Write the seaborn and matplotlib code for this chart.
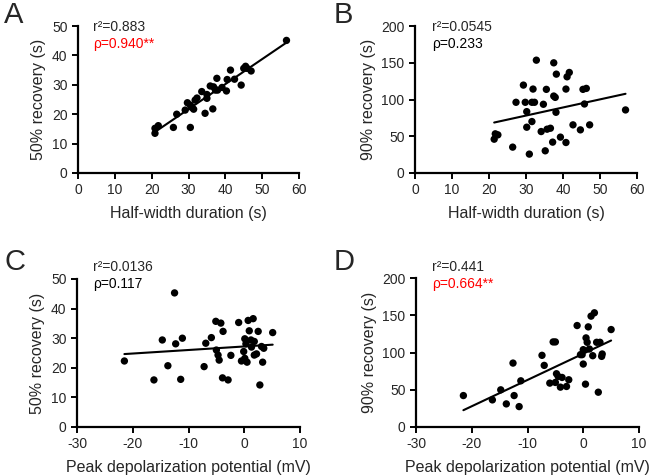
import numpy as np
import matplotlib
matplotlib.use("Agg")
import matplotlib.pyplot as plt
import seaborn as sns

# Panel A: half-width duration vs 50% recovery
hw_a = [20.9, 20.9, 21.8, 25.9, 26.8, 29.1, 29.7, 30.5, 30.5, 30.9, 31.4, 31.8,
        32.3, 33.6, 34.5, 35.0, 35.0, 35.9, 36.6, 36.8, 37.3, 37.7, 37.9, 39.1,
        40.3, 40.5, 41.4, 42.5, 44.3, 45.0, 45.5, 45.9, 47.0, 56.6]
rec50_a = [13.5, 15.2, 16.1, 15.5, 20.0, 21.4, 23.9, 15.5, 23.1, 22.3, 21.7, 24.8,
           25.5, 27.7, 20.3, 25.4, 26.7, 29.6, 21.8, 29.3, 28.2, 32.2, 28.2, 29.1,
           27.9, 31.8, 35.0, 31.9, 29.9, 35.6, 36.3, 35.6, 34.7, 45.1]

# Panel B: half-width duration vs 90% recovery
hw_b = [21.4, 21.7, 22.4, 26.4, 27.3, 29.3, 29.8, 30.2, 30.2, 30.9, 31.6, 31.9,
        31.6, 32.3, 32.8, 34.1, 34.7, 35.2, 35.5, 35.7, 36.6, 37.2, 37.5, 37.5,
        37.9, 38.1, 38.2, 39.3, 40.8, 40.8, 41.1, 41.7, 42.7, 44.7, 45.4, 45.8,
        46.3, 47.2, 56.9]
rec90_b = [46.0, 53.3, 51.9, 35.2, 96.2, 119.6, 96.2, 83.5, 62.3, 25.7, 70.0, 114.2,
           96.2, 96.2, 153.5, 56.4, 93.5, 30.2, 113.8, 59.6, 60.9, 42.0, 149.9, 104.7,
           102.9, 82.6, 134.5, 48.8, 114.2, 41.5, 130.9, 136.8, 65.5, 58.7, 113.8, 93.9,
           115.1, 65.5, 85.8]

# Panel C: peak depolarization vs 50% recovery
pdp_c = [-21.5, -16.2, -14.7, -13.7, -12.5, -12.3, -11.4, -11.1, -7.2, -6.9, -5.9,
         -5.1, -5.0, -4.7, -4.5, -4.2, -3.9, -3.8, -2.9, -2.4, -1.0, -0.5, -0.1,
         0.1, 0.1, 0.3, 0.5, 0.7, 0.9, 1.2, 1.3, 1.6, 1.8, 1.8, 2.2, 2.5, 2.8, 3.1,
         3.3, 3.5, 5.1]
rec50_c = [22.3, 15.9, 29.4, 20.7, 45.3, 28.1, 16.1, 30.0, 20.4, 28.3, 30.2, 35.7,
           26.0, 24.3, 22.6, 35.1, 16.6, 32.3, 15.9, 24.2, 35.3, 22.3, 25.5, 23.2,
           29.8, 28.1, 21.9, 36.0, 32.5, 29.4, 27.0, 36.6, 24.3, 28.9, 24.7, 32.3,
           14.2, 27.2, 21.9, 26.6, 31.9]

# Panel D: peak depolarization vs 90% recovery
pdp_d = [-21.5, -16.3, -14.8, -13.8, -12.6, -12.4, -11.5, -11.2, -7.4, -7.0, -6.0,
         -5.4, -5.0, -5.0, -4.8, -4.5, -4.1, -3.8, -3.0, -2.6, -1.1, -0.5, -0.2,
         0.0, 0.0, 0.5, 0.4, 0.7, 0.9, 1.1, 1.4, 1.7, 2.0, 2.4, 2.7, 3.0, 3.3, 3.4,
         5.0]
rec90_d = [42.2, 36.4, 49.9, 31.0, 85.8, 42.2, 27.4, 62.0, 96.2, 82.7, 58.9, 114.2,
           114.2, 59.8, 71.5, 67.9, 53.5, 66.5, 54.4, 63.4, 136.2, 97.1, 97.1, 84.5,
           103.8, 119.6, 57.5, 113.7, 134.4, 104.7, 148.8, 95.7, 153.3, 113.7, 46.7,
           113.7, 94.8, 98.0, 130.8]

letters = ["A", "B", "C", "D"]
r2_text = ["r\u00b2=0.883", "r\u00b2=0.0545", "r\u00b2=0.0136", "r\u00b2=0.441"]
rho_text = ["\u03c1=0.940**", "\u03c1=0.233", "\u03c1=0.117", "\u03c1=0.664**"]
rho_sig = [True, False, False, True]
xlabels = ["Half-width duration (s)"] * 2 + ["Peak depolarization potential (mV)"] * 2
ylabels = ["50% recovery (s)", "90% recovery (s)"] * 2

sns.set_style("ticks")
plt.rcParams["font.family"] = ["Liberation Sans", "DejaVu Sans"]
plt.rcParams["axes.unicode_minus"] = False

W, H = 660, 476
fig = plt.figure(figsize=(6.6, 4.76), dpi=100)

# axes boxes in pixels: left, right, top, bottom
boxes = [(78, 299, 26, 173), (415, 637, 26, 173),
         (77, 300, 279, 427), (416, 639, 278, 427)]
xs = [hw_a, hw_b, pdp_c, pdp_d]
ys = [rec50_a, rec90_b, rec50_c, rec90_d]
xlims = [(0, 60), (0, 60), (-30, 10), (-30, 10)]
ylims = [(0, 50), (0, 200), (0, 50), (0, 200)]
ysteps = [10, 50, 10, 50]

for i in range(4):
    l, r, t, b = boxes[i]
    ax = fig.add_axes([l / W, 1 - b / H, (r - l) / W, (b - t) / H])
    sns.regplot(x=np.array(xs[i]), y=np.array(ys[i]), ax=ax, ci=None,
                color="black",
                scatter_kws={"s": 28, "edgecolor": "none", "alpha": 1},
                line_kws={"lw": 1.5})
    ax.set_xlim(*xlims[i])
    ax.set_ylim(*ylims[i])
    ax.set_xticks(np.arange(xlims[i][0], xlims[i][1] + 1, 10))
    ax.set_yticks(np.arange(0, ylims[i][1] + 1, ysteps[i]))
    ax.tick_params(labelsize=10, width=1.4, length=4, color="black")
    for s in ["left", "bottom"]:
        ax.spines[s].set_linewidth(1.6)
        ax.spines[s].set_color("black")
    sns.despine(ax=ax)
    ax.set_xlabel(xlabels[i], fontsize=11.5, labelpad=6)
    ax.set_ylabel(ylabels[i], fontsize=11.5, labelpad=4)
    for c in ax.collections:
        c.set_clip_on(False)

    # annotation texts
    tx = 93 if i % 2 == 0 else 432
    ty = 27 if i < 2 else 267
    fig.text(tx / W, 1 - ty / H, r2_text[i], fontsize=10, va="center", ha="left")
    fig.text(tx / W, 1 - (ty + 17) / H, rho_text[i], fontsize=10, va="center",
             ha="left", color="red" if rho_sig[i] else "black")

    # panel letter
    lx = 4 if i % 2 == 0 else 334
    ly = 1 if i < 2 else 248
    fig.text(lx / W, 1 - ly / H, letters[i], fontsize=21, va="top", ha="left")

fig.savefig("out.png", dpi=100)
